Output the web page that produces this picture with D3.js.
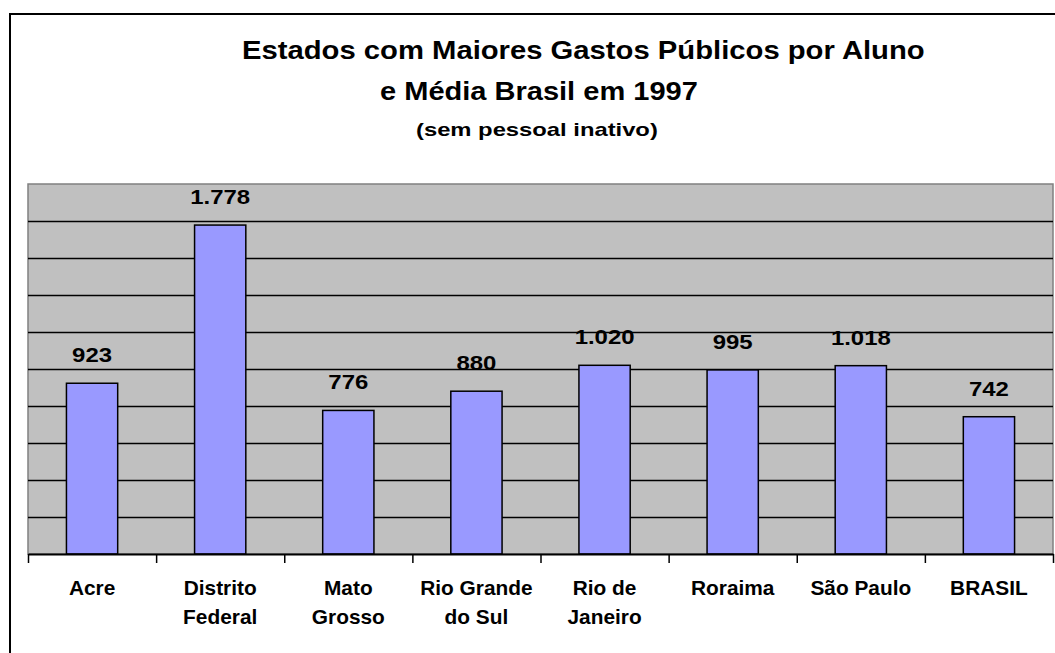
<!DOCTYPE html>
<html>
<head>
<meta charset="utf-8">
<script src="https://cdn.jsdelivr.net/npm/d3@7"></script>
<style>
  html, body { margin: 0; padding: 0; background: #fff; }
  svg { display: block; }
  text { font-family: "Liberation Sans", Arial, sans-serif; font-weight: bold; fill: #000; }
</style>
</head>
<body>
<svg id="chart" width="1055" height="653"></svg>
<script>
// ---- data ----
const categories = ["Acre", "Distrito Federal", "Mato Grosso", "Rio Grande do Sul", "Rio de Janeiro", "Roraima", "São Paulo", "BRASIL"];
const labelLines = [["Acre"], ["Distrito", "Federal"], ["Mato", "Grosso"], ["Rio Grande", "do Sul"], ["Rio de", "Janeiro"], ["Roraima"], ["São Paulo"], ["BRASIL"]];
const values = [923, 1778, 776, 880, 1020, 995, 1018, 742];
const valueLabels = ["923", "1.778", "776", "880", "1.020", "995", "1.018", "742"];
const gridValues = [200, 400, 600, 800, 1000, 1200, 1400, 1600, 1800];
const titleLines = ["Estados com Maiores Gastos Públicos por Aluno", "e Média Brasil em 1997", "(sem pessoal inativo)"];

// ---- layout ----
const svg = d3.select("#chart");
const plot = { left: 28, right: 1053, top: 184, bottom: 554 };

// horizontally stretched text (the reference glyphs are wider than Arial)
function wideText(parent, str, cx, cy, size, factor, anchor) {
  const g = parent.append("g").attr("transform", `translate(${cx},${cy}) scale(${factor},1)`);
  return g.append("text").attr("x", 0).attr("y", 0).attr("font-size", size)
    .attr("text-anchor", anchor || "middle").text(str);
}
function fitText(parent, str, x0, cy, size, len) {
  const g = parent.append("g");
  const t = g.append("text").attr("x", 0).attr("y", 0).attr("font-size", size).text(str);
  const n = t.node().getComputedTextLength();
  g.attr("transform", `translate(${x0},${cy}) scale(${len / n},1)`);
  return t;
}

// outer frame (extends beyond the window on right and bottom)
svg.append("rect").attr("x", 10).attr("y", 14).attr("width", 1200).attr("height", 800)
  .attr("fill", "#fff").attr("stroke", "#000").attr("stroke-width", 2);

// titles
const titleSpec = [
  { x: 242, y: 59, size: 25.5, len: 683 },
  { x: 380, y: 100, size: 25.5, len: 318 },
  { x: 416, y: 136, size: 19, len: 242 }
];
titleLines.forEach((t, i) => {
  const s = titleSpec[i];
  fitText(svg, t, s.x, s.y, s.size, s.len);
});

// scales
const x = d3.scaleBand().domain(categories).range([plot.left, plot.right]).paddingInner(0.6).paddingOuter(0.3);
const xEdge = d3.scaleLinear().domain([0, categories.length]).range([plot.left, plot.right]);
const y = d3.scaleLinear().domain([0, 2000]).range([plot.bottom, plot.top]);

// plot background
svg.append("rect").attr("x", plot.left).attr("y", plot.top)
  .attr("width", plot.right - plot.left).attr("height", plot.bottom - plot.top)
  .attr("fill", "#C0C0C0").attr("stroke", "#808080").attr("stroke-width", 1.5);

// gridlines
const grid = svg.append("g").attr("transform", `translate(${plot.left},0)`)
  .call(d3.axisLeft(y).tickValues(gridValues).tickSize(-(plot.right - plot.left)).tickFormat(""));
grid.select(".domain").remove();
grid.selectAll(".tick line").attr("stroke", "#000").attr("stroke-width", 1.3);

// bars
svg.append("g").selectAll("rect").data(values).join("rect")
  .attr("x", (d, i) => x(categories[i]))
  .attr("y", d => y(d))
  .attr("width", x.bandwidth())
  .attr("height", d => y(0) - y(d))
  .attr("fill", "#9999FF").attr("stroke", "#000").attr("stroke-width", 1.5);

// x axis with boundary ticks
const xAxis = svg.append("g").attr("transform", `translate(0,${plot.bottom})`)
  .call(d3.axisBottom(xEdge).tickValues(d3.range(categories.length + 1)).tickSize(9).tickSizeOuter(0).tickFormat(""));
xAxis.select(".domain").attr("stroke", "#000").attr("stroke-width", 2);
xAxis.selectAll(".tick line").attr("stroke", "#000").attr("stroke-width", 1.5);

// value labels
const vlg = svg.append("g");
values.forEach((v, i) => {
  wideText(vlg, valueLabels[i], x(categories[i]) + x.bandwidth() / 2, y(v) - 21, 21, 1.14);
});

// category labels
const clg = svg.append("g");
categories.forEach((c, i) => {
  labelLines[i].forEach((line, j) => {
    wideText(clg, line, x(c) + x.bandwidth() / 2, 595 + j * 29, 19.5, 1.07);
  });
});
</script>
</body>
</html>
